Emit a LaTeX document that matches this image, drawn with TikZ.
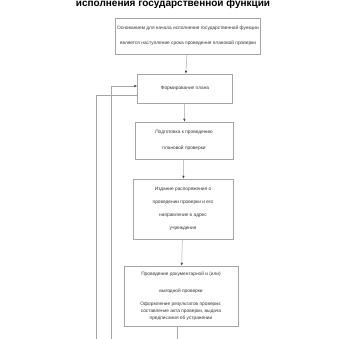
\documentclass[tikz,border=0pt]{standalone}
\usepackage{fontspec}
\setmainfont{Liberation Sans}
\usetikzlibrary{positioning,arrows.meta}

\begin{document}
\begin{tikzpicture}[x=1pt,y=-1pt,font=\fontsize{4.8}{7}\selectfont]
\tikzset{
  stepbox/.style={draw=black!35,line width=0.5pt,align=center,inner sep=1pt,text=black!80},
  flow/.style={draw=black!35,-{Latex[length=3pt,width=2.4pt,black!75]},line width=0.5pt},
  loopline/.style={draw=black!35,line width=0.5pt}
}
\useasboundingbox (0,0) rectangle (355,338);

% Title (upper line cut off by the page edge)
\node[font=\bfseries\fontsize{10}{12}\selectfont,anchor=base] (title) at (173,6.5)
  {исполнения государственной функции};

% Steps of the procedure
\node[stepbox,minimum width=145,minimum height=36] (start) at (188,36)
  {Основанием для начала исполнения государственной функции\\[8pt]
   является наступление срока проведения плановой проверки};
\node[stepbox,minimum width=95,minimum height=29] (plan) at (185,88.5)
  {Формирование плана};
\node[stepbox,minimum width=98,minimum height=37] (prep) at (184,140.5)
  {Подготовка к проведению\\[9pt] плановой проверки};
\node[stepbox,minimum width=100,minimum height=60] (order) at (183,209)
  {Издание распоряжения о\\[6pt] проведении проверки и его\\[6pt]
   направление в адрес\\[6pt] учреждения};
\node[stepbox,minimum width=114,minimum height=60] (check) at (181,296)
  {Проведение документарной и (или)\\[10pt] выездной проверки\\[6pt]
   Оформление результатов проверки:\\ составление акта проверки,
   выдача\\ предписания об устранении};

% Free ends
\coordinate (out) at (177,345);
\coordinate (backA) at (96,345);
\coordinate (backB) at (111,345);

% Connectors
\draw[flow] (start) -- (plan);
\draw[flow] (plan) -- (prep);
\draw[flow] (prep) -- (order);
\draw[flow] (order) -- (check);
\draw[flow] (check.south -| out) -- (out);

% Return lines to the planning step
\draw[loopline] (backA) |- ([yshift=-6.5pt]plan.west);
\draw[flow] (backB) |- ([yshift=2.5pt]plan.west);

\end{tikzpicture}
\end{document}
